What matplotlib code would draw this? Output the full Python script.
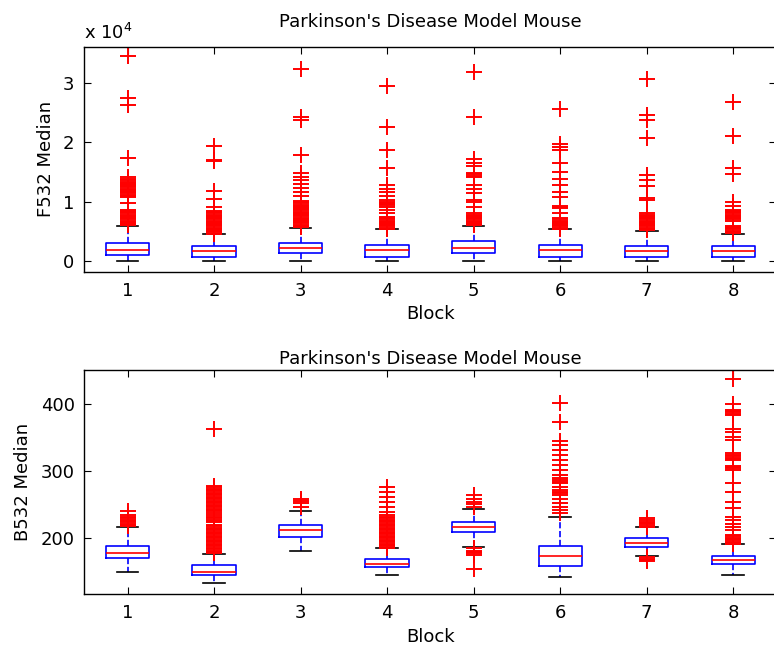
import matplotlib
matplotlib.use("Agg")
import matplotlib.pyplot as plt

plt.rcParams['font.family'] = ['DejaVu Sans']
plt.rcParams['font.size'] = 13

blocks = [1, 2, 3, 4, 5, 6, 7, 8]

# F532 Median, in units of 1e4
f_med = [0.19, 0.16, 0.21, 0.19, 0.21, 0.19, 0.16, 0.16]
f_q1 = [0.10, 0.06, 0.125, 0.06, 0.13, 0.07, 0.07, 0.065]
f_q3 = [0.30, 0.25, 0.30, 0.27, 0.33, 0.265, 0.25, 0.25]
f_lo = [0.0, 0.0, 0.0, 0.0, 0.0, 0.0, 0.0, 0.0]
f_hi = [0.59, 0.46, 0.56, 0.535, 0.59, 0.535, 0.51, 0.46]
f_out = [
    [0.60, 0.62, 0.64, 0.66, 0.68, 0.70, 0.72, 0.74, 0.76, 0.78, 0.80, 0.82, 0.84, 0.86,
     0.98, 1.08, 1.10, 1.12, 1.14, 1.16, 1.18, 1.20, 1.22, 1.24, 1.26, 1.28, 1.30, 1.32,
     1.34, 1.36, 1.38, 1.42, 1.73, 2.64, 2.76, 3.46],
    [0.46, 0.48, 0.50, 0.52, 0.54, 0.56, 0.58, 0.60, 0.62, 0.64, 0.66, 0.68, 0.70, 0.72,
     0.74, 0.76, 0.78, 0.80, 0.82, 0.84, 0.91, 1.05, 1.18, 1.69, 1.70, 1.94],
    [0.57, 0.59, 0.61, 0.63, 0.65, 0.67, 0.69, 0.71, 0.73, 0.75, 0.77, 0.79, 0.81, 0.83,
     0.85, 0.87, 0.89, 0.91, 0.93, 0.95, 0.97, 0.99, 1.01, 1.09, 1.155, 1.23, 1.30, 1.36,
     1.42, 1.48, 1.79, 2.38, 2.43, 3.25],
    [0.54, 0.56, 0.58, 0.60, 0.62, 0.64, 0.66, 0.68, 0.70, 0.72, 0.74, 0.80, 0.86, 0.91,
     0.94, 0.96, 0.98, 1.00, 1.02, 1.10, 1.17, 1.22, 1.28, 1.56, 1.87, 2.26, 2.95],
    [0.60, 0.62, 0.64, 0.66, 0.68, 0.70, 0.72, 0.74, 0.76, 0.78, 0.80, 0.91, 0.99, 1.03,
     1.15, 1.22, 1.28, 1.42, 1.44, 1.46, 1.48, 1.60, 1.66, 1.72, 2.43, 3.19],
    [0.54, 0.56, 0.58, 0.60, 0.62, 0.64, 0.66, 0.68, 0.70, 0.72, 0.81, 0.89, 0.91, 0.93,
     1.07, 1.155, 1.28, 1.39, 1.50, 1.645, 1.88, 1.925, 1.98, 2.56],
    [0.52, 0.54, 0.56, 0.58, 0.60, 0.62, 0.64, 0.66, 0.68, 0.70, 0.72, 0.74, 0.76, 0.78,
     0.80, 1.025, 1.055, 1.27, 1.36, 1.45, 2.08, 2.38, 2.46, 3.08],
    [0.47, 0.49, 0.51, 0.53, 0.55, 0.57, 0.59, 0.68, 0.70, 0.72, 0.74, 0.76, 0.78, 0.80,
     0.82, 0.84, 0.86, 0.93, 0.99, 1.46, 1.56, 2.11, 2.69],
]

# B532 Median
b_med = [178.6, 150.4, 211.9, 162.3, 217.2, 173.7, 193.5, 167.3]
b_q1 = [170.7, 145.0, 202.4, 156.9, 209.4, 159.3, 187.5, 161.8]
b_q3 = [189.0, 160.3, 220.2, 169.7, 224.2, 188.6, 200.4, 174.2]
b_lo = [150.4, 133.6, 181.0, 145.5, 187.5, 143.0, 173.7, 145.5]
b_hi = [216.8, 177.0, 240.6, 186.0, 243.0, 231.6, 216.3, 191.0]
b_out = [
    [218, 220, 222, 224, 226, 228, 230, 232, 234, 241],
    [178, 180, 182, 184, 186, 188, 190, 192, 194, 196, 198, 200, 202, 204, 206, 208,
     210, 212, 214, 216, 218, 220, 224, 226, 228, 230, 232, 234, 238, 240, 242, 244,
     246, 248, 250, 252, 254, 256, 258, 260, 262, 264, 266, 268, 270, 272, 274, 276,
     278, 362],
    [247, 252, 256, 259],
    [186, 188, 190, 192, 194, 196, 198, 200, 202, 204, 206, 208, 210, 212, 214, 216,
     218, 220, 222, 224, 226, 228, 230, 232, 234, 239.5, 247, 254, 262, 269, 277],
    [247, 251, 254, 259, 264, 185, 182, 180, 178, 175, 154],
    [237, 242, 247, 252, 259, 264, 267, 269, 272, 277, 282, 284, 287, 289, 294, 302,
     309, 317, 324, 331, 339, 345, 373, 401],
    [217, 219, 221, 223, 225, 227, 230, 172, 170, 168, 166],
    [191, 193, 195, 197, 199, 201, 203, 205, 212, 217, 222, 227, 232, 245, 254, 269,
     282, 302, 304, 306, 308, 316, 318, 320, 322, 324, 326, 346, 351, 358, 363, 383,
     385, 387, 389, 391, 399, 436],
]


def draw_panel(ax, med, q1, q3, lo, hi, out, title_pad):
    stats = []
    for i in range(len(blocks)):
        stats.append(dict(med=med[i], q1=q1[i], q3=q3[i], whislo=lo[i],
                          whishi=hi[i], fliers=out[i]))
    ax.bxp(stats, positions=blocks, widths=0.5, capwidths=0.25,
           boxprops=dict(color='blue', lw=1.2),
           medianprops=dict(color='red', lw=1.2),
           whiskerprops=dict(color='blue', lw=1.2, ls='--'),
           capprops=dict(color='black', lw=1.2),
           flierprops=dict(marker='+', markeredgecolor='red', markersize=12,
                           markeredgewidth=1.4, ls='none'))
    ax.set_xlim(0.5, 8.5)
    ax.set_xticks(blocks)
    ax.set_xticklabels([str(b) for b in blocks])
    ax.tick_params(direction='in', top=True, right=True, length=5, pad=7)
    for s in ax.spines.values():
        s.set_linewidth(1.0)
    ax.set_xlabel('Block', labelpad=4)
    ax.set_title("Parkinson's Disease Model Mouse", fontsize=13, pad=title_pad)


fig = plt.figure(figsize=(7.74, 6.51), dpi=100)
ax1 = fig.add_axes([0.1089, 0.5822, 0.8943, 0.3461])
ax2 = fig.add_axes([0.1089, 0.0871, 0.8943, 0.3446])

draw_panel(ax1, f_med, f_q1, f_q3, f_lo, f_hi, f_out, 14)
ax1.set_ylim(-0.19, 3.62)
ax1.set_yticks([0, 1, 2, 3])
ax1.set_ylabel('F532 Median', labelpad=6)
ax1.text(0.0, 1.015, 'x 10$^4$', transform=ax1.transAxes, fontsize=13,
         ha='left', va='bottom')

draw_panel(ax2, b_med, b_q1, b_q3, b_lo, b_hi, b_out, 4)
ax2.set_ylim(117, 450)
ax2.set_yticks([200, 300, 400])
ax2.set_ylabel('B532 Median', labelpad=6)

fig.savefig('out.png', dpi=100)
